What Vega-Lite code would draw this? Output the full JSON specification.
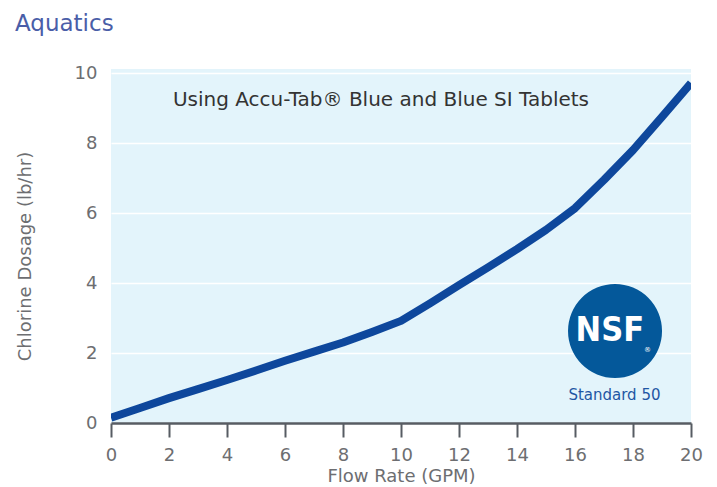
{
  "$schema": "https://vega.github.io/schema/vega-lite/v6.json",
  "width": 580,
  "height": 354,
  "autosize": {"type": "none"},
  "padding": {"left": 111, "top": 69, "right": 26, "bottom": 64},
  "background": "#ffffff",
  "title": {
    "text": "Aquatics",
    "anchor": "start",
    "frame": "group",
    "dx": -96,
    "offset": 28,
    "font": "DejaVu Sans",
    "fontSize": 23,
    "fontWeight": "normal",
    "color": "#4a5ea8"
  },
  "config": {
    "view": {"fill": "#e3f4fb", "stroke": null},
    "font": "DejaVu Sans",
    "axis": {
      "labelFont": "DejaVu Sans",
      "titleFont": "DejaVu Sans",
      "labelFontSize": 18,
      "titleFontSize": 18,
      "labelColor": "#6d6e71",
      "titleColor": "#6d6e71",
      "titleFontWeight": "normal"
    }
  },
  "datasets": {
    "curve": [
      {"flow": 0, "dosage": 0.15},
      {"flow": 1, "dosage": 0.43},
      {"flow": 2, "dosage": 0.71},
      {"flow": 3, "dosage": 0.97},
      {"flow": 4, "dosage": 1.23},
      {"flow": 5, "dosage": 1.5},
      {"flow": 6, "dosage": 1.78},
      {"flow": 7, "dosage": 2.04},
      {"flow": 8, "dosage": 2.3},
      {"flow": 9, "dosage": 2.6},
      {"flow": 10, "dosage": 2.92},
      {"flow": 11, "dosage": 3.42},
      {"flow": 12, "dosage": 3.94},
      {"flow": 13, "dosage": 4.45},
      {"flow": 14, "dosage": 4.97},
      {"flow": 15, "dosage": 5.52},
      {"flow": 16, "dosage": 6.14},
      {"flow": 17, "dosage": 6.95},
      {"flow": 18, "dosage": 7.8},
      {"flow": 19, "dosage": 8.75},
      {"flow": 20, "dosage": 9.72}
    ],
    "note": [{"label": "Using Accu-Tab® Blue and Blue SI Tablets"}],
    "logo": [{"label": "NSF"}],
    "reg": [{"label": "®"}],
    "std": [{"label": "Standard 50"}]
  },
  "layer": [
    {
      "data": {"name": "curve"},
      "mark": {"type": "line", "color": "#0e479c", "strokeWidth": 8, "strokeCap": "butt", "strokeJoin": "round", "clip": true},
      "encoding": {
        "x": {
          "field": "flow", "type": "quantitative",
          "scale": {"domain": [0, 20], "nice": false, "zero": false},
          "axis": {
            "title": "Flow Rate (GPM)",
            "values": [0, 2, 4, 6, 8, 10, 12, 14, 16, 18, 20],
            "grid": false,
            "domain": true,
            "domainColor": "#575c63",
            "domainWidth": 2.5,
            "ticks": true,
            "tickColor": "#575c63",
            "tickWidth": 2,
            "tickSize": 14,
            "labelPadding": 9,
            "titlePadding": 3,
            "labelFlush": false,
            "labelOverlap": false
          }
        },
        "y": {
          "field": "dosage", "type": "quantitative",
          "scale": {"domain": [0, 10.12], "nice": false, "zero": true},
          "axis": {
            "title": "Chlorine Dosage (lb/hr)",
            "values": [0, 2, 4, 6, 8, 10],
            "grid": true,
            "gridColor": "#ffffff",
            "gridWidth": 1.5,
            "domain": false,
            "ticks": false,
            "labelPadding": 14,
            "titlePadding": 40,
            "titleY": 187,
            "labelFlush": false,
            "labelOverlap": false
          }
        }
      }
    },
    {
      "data": {"name": "note"},
      "mark": {"type": "text", "fontSize": 20, "color": "#333333", "align": "center", "baseline": "middle"},
      "encoding": {
        "x": {"datum": 9.31, "type": "quantitative"},
        "y": {"datum": 9.24, "type": "quantitative"},
        "text": {"field": "label"}
      }
    },
    {
      "data": {"name": "logo"},
      "mark": {"type": "point", "shape": "circle", "filled": true, "opacity": 1, "size": 8836, "color": "#04589a"},
      "encoding": {
        "x": {"datum": 17.38, "type": "quantitative"},
        "y": {"datum": 2.63, "type": "quantitative"}
      }
    },
    {
      "data": {"name": "logo"},
      "mark": {"type": "text", "font": "DejaVu Sans Condensed", "fontWeight": "bold", "fontSize": 34, "color": "#ffffff", "align": "center", "baseline": "middle"},
      "encoding": {
        "x": {"datum": 17.2, "type": "quantitative"},
        "y": {"datum": 2.63, "type": "quantitative"},
        "text": {"field": "label"}
      }
    },
    {
      "data": {"name": "reg"},
      "mark": {"type": "text", "fontSize": 7, "color": "#ffffff", "align": "center", "baseline": "middle"},
      "encoding": {
        "x": {"datum": 18.5, "type": "quantitative"},
        "y": {"datum": 2.1, "type": "quantitative"},
        "text": {"field": "label"}
      }
    },
    {
      "data": {"name": "std"},
      "mark": {"type": "text", "fontSize": 15, "color": "#1f57a4", "align": "center", "baseline": "middle"},
      "encoding": {
        "x": {"datum": 17.36, "type": "quantitative"},
        "y": {"datum": 0.79, "type": "quantitative"},
        "text": {"field": "label"}
      }
    }
  ]
}
